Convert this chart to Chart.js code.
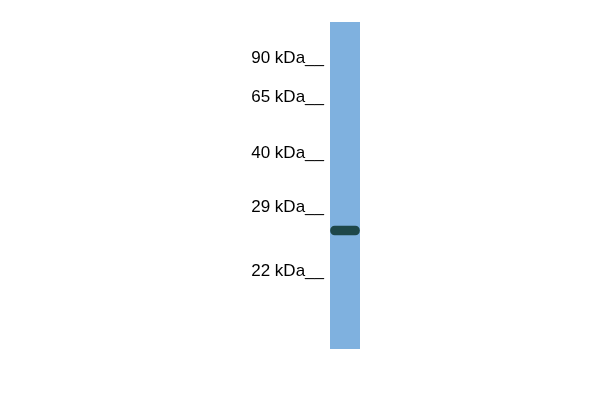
<!DOCTYPE html>
<html>
<head>
<meta charset="utf-8">
<script src="https://cdn.jsdelivr.net/npm/chart.js@4/dist/chart.umd.min.js"></script>
<style>
  html, body { margin: 0; background: #fff; }
  #wrap { width: 600px; height: 400px; }
</style>
</head>
<body>
<div id="wrap"><canvas id="blot"></canvas></div>
<script>
// lane and marker data (migration measured from the top of the lane)
const laneNames = ['Sample'];
const laneLength = 327;
const markerKDa = ['90', '65', '40', '29', '22'];
const markerMigration = [36, 75, 131, 185, 249];
const bandMigration = [204, 213];

const ctx = document.getElementById('blot').getContext('2d');

new Chart(ctx, {
  type: 'bar',
  data: {
    labels: laneNames,
    datasets: [
      {
        label: 'Band',
        data: [bandMigration],
        backgroundColor: '#1e4749',
        borderRadius: 6,
        borderSkipped: false,
        barThickness: 29,
        grouped: false,
        order: 0
      },
      {
        label: 'Lane',
        data: [[0, laneLength]],
        backgroundColor: '#7fb1df',
        borderSkipped: false,
        barThickness: 30,
        grouped: false,
        order: 1
      }
    ]
  },
  options: {
    responsive: true,
    maintainAspectRatio: false,
    animation: false,
    devicePixelRatio: 1,
    layout: { padding: { left: 0, right: 240, top: 22, bottom: 51 } },
    plugins: { legend: { display: false }, tooltip: { enabled: false } },
    scales: {
      x: { display: false },
      y: {
        reverse: true,
        min: 0,
        max: laneLength,
        grid: { display: false, drawTicks: false },
        border: { display: false },
        afterFit: scale => { scale.width = 330; },
        afterBuildTicks: scale => {
          scale.ticks = markerMigration.map(v => ({ value: v }));
        },
        ticks: {
          color: '#000',
          padding: 6,
          font: { family: 'Liberation Sans, Arial, sans-serif', size: 17 },
          callback: (value, i) => markerKDa[i] + ' kDa__'
        }
      }
    }
  }
});
</script>
</body>
</html>
